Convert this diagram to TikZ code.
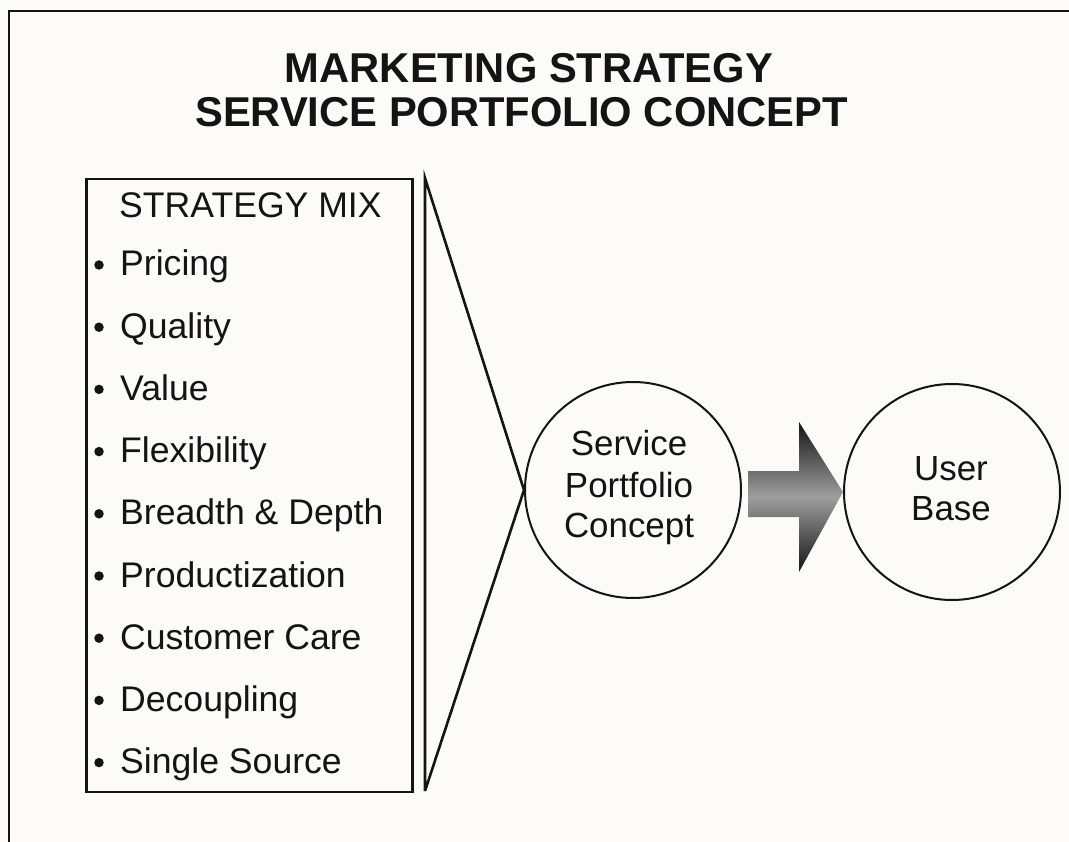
\documentclass[tikz,border=0pt]{standalone}
\usepackage{fontspec}
\setmainfont{Liberation Sans}
\definecolor{bgcol}{RGB}{253,251,248}
\definecolor{ink}{RGB}{20,20,20}
\begin{document}
\begin{tikzpicture}[x=1pt,y=-1pt,
  frameline/.style={draw=ink,line width=2pt},
  boxline/.style={draw=ink,line width=2.6pt},
  circ/.style={circle,draw=ink,line width=2pt,minimum size=216pt,inner sep=0pt},
  titletext/.style={font=\fontsize{41.7}{44}\selectfont\bfseries,text=ink,inner sep=0pt,anchor=base},
  itemtext/.style={font=\fontsize{35.6}{40}\selectfont,text=ink,inner sep=0pt,anchor=base west},
  circtext/.style={font=\fontsize{34.9}{40}\selectfont,text=ink,inner sep=0pt,anchor=base},
  bulletdot/.style={circle,fill=ink,draw=none,inner sep=0pt,minimum size=9.5pt},
  arrowfill/.style={top color=black!92,bottom color=black!92,middle color=black!38,draw=none}
]
\fill[bgcol] (0,0) rectangle (1069,842);
\useasboundingbox (0,0) rectangle (1069,842);

% outer frame (cut by the page edges)
\coordinate (fbl) at (9,842);
\coordinate (ftl) at (9,11);
\coordinate (ftr) at (1069,11);
\draw[frameline] (fbl) -- (ftl) -- (ftr);

% title
\node[titletext] (t1) at (529,83) {MARKETING STRATEGY};
\node[titletext] (t2) at (521.5,127) {SERVICE PORTFOLIO CONCEPT};

% strategy mix box
\node[boxline,rectangle,minimum width=326pt,minimum height=613pt,inner sep=0pt] (mix) at (249.5,485.5) {};
\node[itemtext] (hdr) at (119,218) {STRATEGY MIX};
\foreach \i/\txt in {0/Pricing,1/Quality,2/Value,3/Flexibility,4/Breadth \& Depth,5/Productization,6/Customer Care,7/Decoupling,8/Single Source}{
  \node[itemtext] (it\i) at (120,276+62.2*\i) {\txt};
  \node[bulletdot] (b\i) at (99,276+62.2*\i-11) {};
}

% circles
\node[circ] (spc) at (633,490) {};
\node[circtext] (spc1) at (629,455) {Service};
\node[circtext] (spc2) at (629,497) {Portfolio};
\node[circtext] (spc3) at (629,537) {Concept};
\node[circ] (ub) at (952,492) {};
\node[circtext] (ub1) at (951,480) {User};
\node[circtext] (ub2) at (951,520) {Base};

% funnel
\coordinate (ft) at (425,178);
\coordinate (fb) at (425,791);
\draw[boxline,line join=miter] (fb) -- (ft) -- (spc.west) -- (fb);

% block arrow
\coordinate (atip) at (ub.west);
\path[arrowfill] (748,471) -- (799,471) -- (799,422) -- (atip) -- (799,572) -- (799,517) -- (748,517) -- cycle;
\end{tikzpicture}
\end{document}
